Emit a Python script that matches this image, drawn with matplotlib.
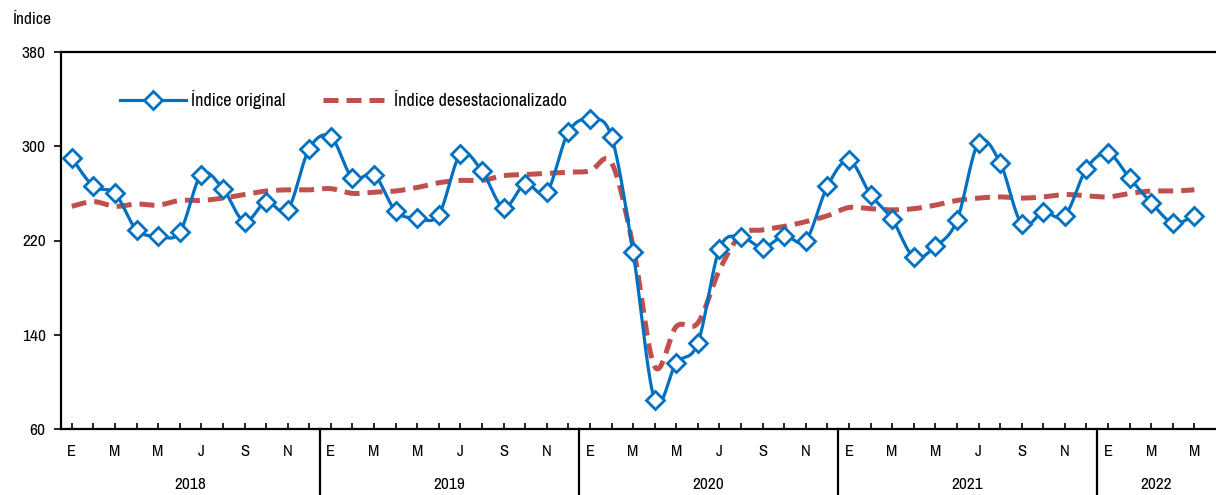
import numpy as np
import matplotlib
matplotlib.use("Agg")
import matplotlib.pyplot as plt
from matplotlib import font_manager as fm
import matplotlib.transforms as mtransforms

# ---------------- data ----------------
years = ["2018", "2019", "2020", "2021", "2022"]
month_letters = ["E", "F", "M", "A", "M", "J", "J", "A", "S", "O", "N", "D"]
n_months = 53  # Jan 2018 .. May 2022

indice_original = [
    290, 266, 260, 229, 224, 227, 276, 264, 236, 253, 246, 298,      # 2018
    308, 273, 276, 245, 239, 242, 293, 279, 248, 268, 261, 312,      # 2019
    323, 308, 210, 85, 116, 133, 213, 223, 214, 224, 220, 266,       # 2020
    288, 259, 238, 206, 215, 237, 303, 286, 234, 244, 241, 281,      # 2021
    294, 273, 252, 235, 241,                                          # 2022
]
indice_desest = [
    249, 253, 249, 251, 250, 254, 254, 256, 259, 262, 263, 263,      # 2018
    264, 260, 261, 262, 265, 269, 271, 271, 275, 276, 277, 278,      # 2019
    279, 286, 215, 113, 147, 150, 195, 225, 229, 232, 236, 241,      # 2020
    248, 247, 246, 247, 250, 254, 256, 257, 256, 257, 259, 258,      # 2021
    257, 260, 262, 262, 263,                                          # 2022
]
y_ticks = [60, 140, 220, 300, 380]

# ---------------- style ----------------
avail = {f.name for f in fm.fontManager.ttflist}
fam = "Liberation Sans"
for cand in ["Liberation Sans Narrow", "Arial Narrow", "Arimo Narrow", "Archivo Narrow",
             "Roboto Condensed", "Open Sans Condensed", "Barlow Semi Condensed"]:
    if cand in avail:
        fam = cand
        break
plt.rcParams["font.family"] = [fam, "DejaVu Sans"]
FS = 12.5
FS_LEG = 13

BLUE = "#0070C0"
RED = "#C0504D"


def smooth(y, n=20):
    y = np.asarray(y, float)
    x = np.arange(len(y), dtype=float)
    xs, ys = [], []
    for i in range(len(y) - 1):
        p0 = np.array([x[i], y[i]])
        p3 = np.array([x[i + 1], y[i + 1]])
        pm = np.array([x[i - 1], y[i - 1]]) if i > 0 else p0
        pp = np.array([x[i + 2], y[i + 2]]) if i + 2 < len(y) else p3
        c1 = p0 + (p3 - pm) / 6.0
        c2 = p3 - (pp - p0) / 6.0
        t = np.linspace(0, 1, n, endpoint=(i == len(y) - 2))[:, None]
        b = ((1 - t) ** 3) * p0 + 3 * ((1 - t) ** 2) * t * c1 + 3 * (1 - t) * t ** 2 * c2 + t ** 3 * p3
        xs.append(b[:, 0]); ys.append(b[:, 1])
    return np.concatenate(xs), np.concatenate(ys)


fig = plt.figure(figsize=(12.16, 4.95), dpi=100)
ax = fig.add_axes([61 / 1216, 66 / 495, 1 - 61 / 1216, 377 / 495])

x = np.arange(n_months)
sx, sy = smooth(indice_original)
ax.plot(sx, sy, color=BLUE, lw=2.3, solid_capstyle="round", zorder=3)
ax.plot(x, indice_original, ls="none", marker="D", ms=9, mfc="white", mec=BLUE, mew=2.0, zorder=4)

rx, ry = smooth(indice_desest)
ax.plot(rx, ry, color=RED, lw=3.6, dashes=(3.0, 1.6), zorder=2)

# legend (proxies)
h1, = ax.plot([], [], color=BLUE, lw=2.3, marker="D", ms=9, mfc="white", mec=BLUE, mew=2.0)
h2, = ax.plot([], [], color=RED, lw=3.6, dashes=(3.0, 1.6))
ax.legend([h1, h2], ["Índice original", "Índice desestacionalizado"], ncol=2, frameon=False,
          loc="center left", bbox_to_anchor=(0.051, 0.873), borderaxespad=0, borderpad=0,
          handlelength=3.65, handletextpad=0.28, columnspacing=2.1, fontsize=FS_LEG, numpoints=1)

ax.set_xlim(-0.5, 53.0)
ax.set_ylim(60, 380)
ax.set_yticks(y_ticks)
ax.set_yticklabels([str(v) for v in y_ticks], fontsize=FS)
ax.tick_params(axis="y", direction="out", length=5, width=1.2, pad=6)

ax.set_xticks(x, minor=True)
ax.set_xticks([])
ax.tick_params(axis="x", which="minor", direction="in", length=4, width=1.2)

for s in ["left", "bottom", "top"]:
    ax.spines[s].set_linewidth(1.6)
ax.spines["right"].set_visible(False)

trans = mtransforms.blended_transform_factory(ax.transData, ax.transAxes)
for i in range(n_months):
    if i % 2 == 0:
        ax.text(i, -0.061, month_letters[i % 12], transform=trans, ha="center", va="center",
                fontsize=FS - 0.5, clip_on=False)
for k, yr in enumerate(years):
    start = k * 12 - 0.5
    end = min(start + 12, 53.0)
    ax.text((start + end) / 2, -0.1485, yr, transform=trans, ha="center", va="center",
            fontsize=FS, clip_on=False)
    if k > 0:
        ax.plot([start, start], [0, -0.2], transform=trans, color="black", lw=1.6, clip_on=False)

fig.text(12 / 1216, 1 - 20 / 495, "Índice", fontsize=FS, ha="left", va="center")

fig.savefig("out.png", dpi=100)
